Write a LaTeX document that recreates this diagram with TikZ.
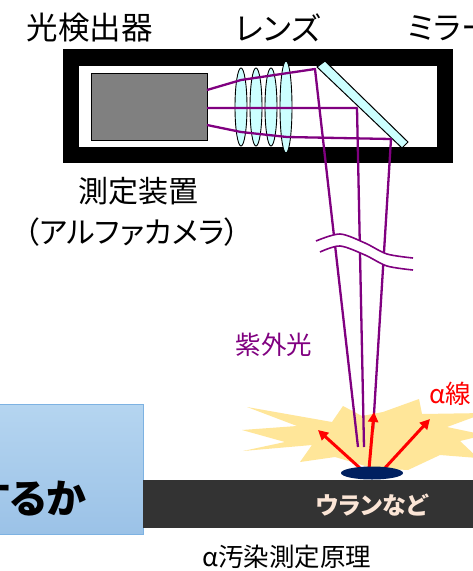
\documentclass[tikz,border=0pt]{standalone}
\usepackage{fontspec}
\setmainfont{Noto Sans CJK JP}[RawFeature=+palt]
\usetikzlibrary{arrows.meta}
\definecolor{uvray}{HTML}{800080}
\definecolor{lensfill}{HTML}{CCFFFF}
\definecolor{burst}{HTML}{FFE699}
\definecolor{spot}{HTML}{002060}
\definecolor{floor}{HTML}{333333}
\definecolor{cream}{HTML}{FBE5D6}
\definecolor{boxtop}{HTML}{B5D5F0}
\definecolor{boxbot}{HTML}{9BC2E7}
\definecolor{boxedge}{HTML}{7DB2E2}
\tikzset{
  label/.style={inner sep=0pt, font=\fontsize{30}{34}\selectfont},
  toplabel/.style={inner sep=0pt, font=\fontsize{31.5}{36}\selectfont},
  smalllabel/.style={inner sep=0pt, font=\fontsize{25.5}{30}\selectfont},
  uvline/.style={draw=uvray, line width=2.3pt},
  lens/.style={draw=black, line width=0.9pt, fill=lensfill},
  alpha arrow/.style={draw=red, line width=3pt, -{Triangle[length=10pt,width=10pt]}},
}
\begin{document}
\begin{tikzpicture}[x=1pt,y=-1pt]
\useasboundingbox (0,0) rectangle (473,571);
\fill[white] (0,0) rectangle (473,571);

% camera housing
\fill[black] (63,49) rectangle (453,163);
\fill[white] (79,66) rectangle (437,147);
\node[draw=black, line width=1pt, fill=gray, minimum width=116pt, minimum height=67pt, inner sep=0pt] (sensor) at (149,106.5) {};

% lenses
\foreach \x/\r in {241/39, 256/39, 271/39, 286/46}
  \draw[lens] (\x,107) ellipse [x radius=6, y radius=\r];

% mirror
\draw[fill=lensfill, line width=1pt] (317,67) -- (325,61) -- (408,142) -- (402,148) -- cycle;

% ray path points
\coordinate (s1) at (207,90);
\coordinate (s2) at (207,108);
\coordinate (s3) at (207,125);
\coordinate (l1) at (241,80);
\coordinate (l3a) at (241,132);
\coordinate (l3b) at (287,137);
\coordinate (m1) at (315,69);
\coordinate (m2) at (357,108);
\coordinate (m3) at (391,139);
\coordinate (e1) at (358,447);
\coordinate (e2) at (364,447);
\coordinate (e3) at (373,430);

% burst of light around the source
\fill[burst] (247,407) -- (332,422) -- (343,406) -- (362,416) -- (383,412)
  -- (419,399) -- (422,414) -- (485,413) -- (447,427) -- (485,435)
  -- (460,441) -- (478,458) -- (440,455) -- (408,470) -- (372,468)
  -- (335,457) -- (300,462) -- (312,445) -- (243,451) -- (285,442)
  -- (242,430) -- (297,426) -- cycle;

% ultraviolet rays
\draw[uvline, line join=round] (s1) -- (l1) -- (m1) -- (e1);
\draw[uvline, line join=round] (s2) -- (m2) -- (e2);
\draw[uvline, line join=round] (s3) -- (l3a) -- (l3b) -- (m3) -- (e3);

% break mark across the rays
\fill[white] plot[smooth] coordinates {(316,241) (340,234) (365,243) (387,254) (413,258)}
  -- plot[smooth] coordinates {(413,270) (387,266) (365,255) (340,246) (320,252)} -- cycle;
\draw[uvray, line width=1.6pt] plot[smooth] coordinates {(316,241) (340,234) (365,243) (387,254) (413,258)};
\draw[uvray, line width=1.6pt] plot[smooth] coordinates {(320,252) (340,246) (365,255) (387,266) (413,270)};

% floor and label box
\shade[top color=boxtop, bottom color=boxbot] (-2,404) rectangle (143,534);
\draw[boxedge, line width=1pt] (-2,404) -- (143,404) -- (143,534) -- (-2,534);
\fill[floor] (143,480) rectangle (473,528);
\node[inner sep=0pt, anchor=east, font=\fontsize{40}{44}\selectfont\bfseries] (question) at (86,499) {するか};

% contamination spot and alpha rays
\coordinate (a1) at (318,430);
\coordinate (a2) at (374,412);
\coordinate (a3) at (430,419);
\coordinate (b1) at (361,469);
\coordinate (b2) at (369,469);
\coordinate (b3) at (384,469);
\draw[alpha arrow] (b1) -- (a1);
\draw[alpha arrow] (b2) -- (a2);
\draw[alpha arrow] (b3) -- (a3);
\fill[spot] (372,473) ellipse [x radius=31, y radius=6.5];

% labels
\node[toplabel] (detector) at (90,28) {光検出器};
\node[toplabel] (lenslabel) at (278,28) {レンズ};
\node[toplabel, anchor=west] (mirrorlabel) at (408,28) {ミラー};
\node[label] (device) at (138,191) {測定装置};
\node[label] (camera) at (132,232) {（アルファカメラ）};
\node[smalllabel, text=uvray] (uv) at (274,345) {紫外光};
\node[smalllabel, text=red, anchor=west] (alphalabel) at (429,394) {α線};
\node[inner sep=0pt, font=\fontsize{24}{28}\selectfont\bfseries, text=cream] (uranium) at (372,505) {ウランなど};
\node[smalllabel] (title) at (287,557) {α汚染測定原理};
\end{tikzpicture}
\end{document}
